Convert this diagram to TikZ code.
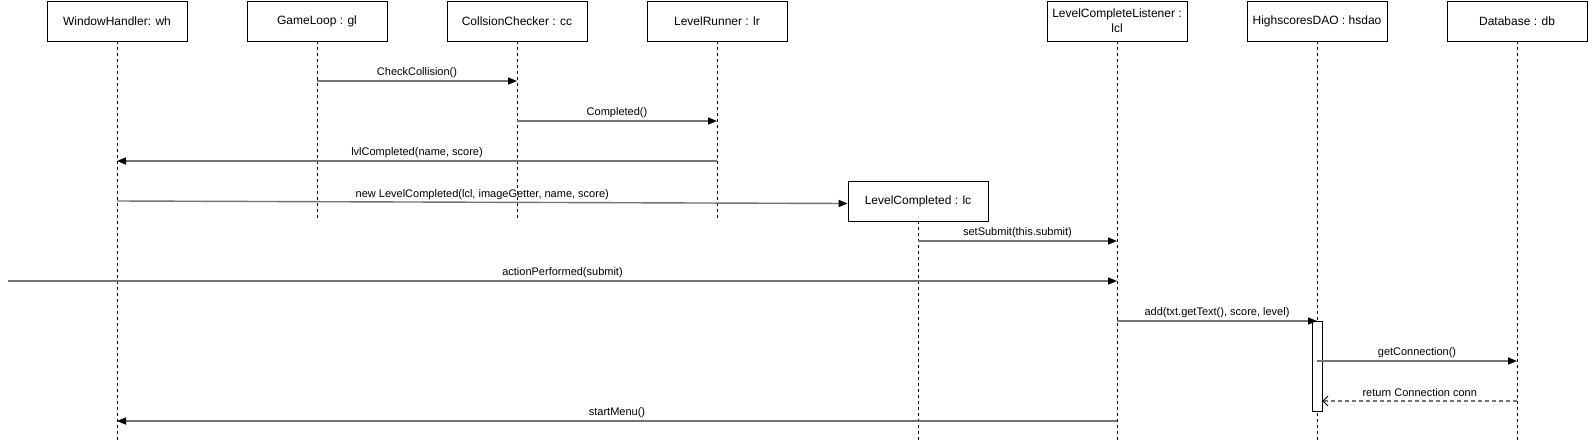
\documentclass[tikz,border=0pt]{standalone}
\usepackage{fontspec}
\setmainfont{Liberation Sans}
\usetikzlibrary{arrows.meta}
\begin{document}
\begin{tikzpicture}[x=1pt,y=-1pt,
  obj/.style={draw=black, line width=0.9pt, fill=white, minimum width=140pt, minimum height=40pt, inner sep=0pt, align=center, font=\fontsize{12}{15}\selectfont},
  life/.style={draw=black, line width=0.8pt, dash pattern=on 3pt off 3pt},
  msg/.style={draw=black!55, line width=1.4pt, -{Triangle[length=9pt,width=7pt,color=black]}},
  ret/.style={draw=black!55, line width=1.4pt, dash pattern=on 4pt off 3pt, -{Straight Barb[length=5pt,width=10pt,color=black,line width=0.8pt]}},
  lbl/.style={midway, yshift=8pt, font=\fontsize{11}{13}\selectfont, inner sep=0pt},
  actbox/.style={draw=black, line width=0.9pt, fill=white, minimum width=10pt, minimum height=90pt, inner sep=0pt}]
\useasboundingbox (0,0) rectangle (1589,442);
\fill[white] (0,0) rectangle (1589,442);

% objects
\node[obj] (wh) at (117,21) {WindowHandler: wh};
\node[obj] (gl) at (317,21) {GameLoop : gl};
\node[obj] (cc) at (517,21) {CollsionChecker : cc};
\node[obj] (lr) at (717,21) {LevelRunner : lr};
\node[obj] (lcl) at (1117,21) {LevelCompleteListener :\\lcl};
\node[obj] (hs) at (1317,21) {HighscoresDAO : hsdao};
\node[obj] (db) at (1517,21) {Database : db};
\node[obj] (lc) at (918,201) {LevelCompleted : lc};

% lifeline ends
\coordinate (endA) at (0,219);
\coordinate (endB) at (0,442);
\draw[life] (wh.south) -- (wh.south |- endB);
\draw[life] (gl.south) -- (gl.south |- endA);
\draw[life] (cc.south) -- (cc.south |- endA);
\draw[life] (lr.south) -- (lr.south |- endA);
\draw[life] (lc.south) -- (lc.south |- endB);
\draw[life] (lcl.south) -- (lcl.south |- endB);
\draw[life] (hs.south) -- (hs.south |- endB);
\draw[life] (db.south) -- (db.south |- endB);

% activation
\node[actbox] (ac) at (1317,366) {};

% message rows
\coordinate (y1) at (0,81);
\coordinate (y2) at (0,121);
\coordinate (y3) at (0,161);
\coordinate (y4) at (0,201);
\coordinate (y5) at (0,241);
\coordinate (src) at (8,281);
\coordinate (y7) at (0,321);
\coordinate (y8) at (0,361);
\coordinate (y9) at (0,401);
\coordinate (y10) at (0,421);

\draw[msg] (gl |- y1) -- node[lbl]{CheckCollision()} (cc |- y1);
\draw[msg] (cc |- y2) -- node[lbl]{Completed()} (lr |- y2);
\draw[msg] (lr |- y3) -- node[lbl]{lvlCompleted(name, score)} (wh |- y3);
\draw[msg] (wh |- y4) -- node[lbl]{new LevelCompleted(lcl, imageGetter, name, score)} ([yshift=-2.5pt]lc.west);
\draw[msg] (lc |- y5) -- node[lbl]{setSubmit(this.submit)} (lcl |- y5);
\draw[msg] (src) -- node[lbl]{actionPerformed(submit)} (lcl |- src);
\draw[msg] (lcl |- y7) -- node[lbl]{add(txt.getText(), score, level)} (ac |- y7);
\draw[msg] (ac |- y8) -- node[lbl]{getConnection()} (db |- y8);
\draw[ret] (db |- y9) -- node[lbl]{return Connection conn} (ac.east |- y9);
\draw[msg] (lcl |- y10) -- node[lbl]{startMenu()} (wh |- y10);
\end{tikzpicture}
\end{document}
